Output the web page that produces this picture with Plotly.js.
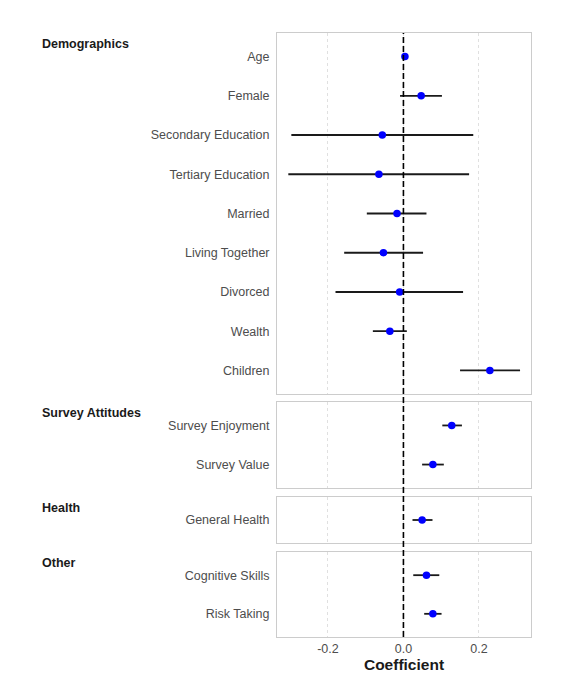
<!DOCTYPE html>
<html>
<head>
<meta charset="utf-8">
<script src="https://cdn.plot.ly/plotly-3.0.1.min.js"></script>
<style>html,body{margin:0;padding:0;background:#fff;}#chart{width:568px;height:682px;}</style>
</head>
<body>
<div id="chart"></div>
<script>
// ---- data ----
const groups = ["Demographics", "Survey Attitudes", "Health", "Other"];

const demoVars = ["Age", "Female", "Secondary Education", "Tertiary Education", "Married",
                  "Living Together", "Divorced", "Wealth", "Children"];
const demoCoef = [0.004, 0.047, -0.056, -0.065, -0.017, -0.053, -0.010, -0.036, 0.229];
const demoLo   = [0.001, -0.009, -0.297, -0.305, -0.097, -0.157, -0.180, -0.081, 0.150];
const demoHi   = [0.007, 0.102, 0.185, 0.174, 0.061, 0.052, 0.158, 0.009, 0.309];

const surveyVars = ["Survey Enjoyment", "Survey Value"];
const surveyCoef = [0.128, 0.078];
const surveyLo   = [0.103, 0.0495];
const surveyHi   = [0.155, 0.107];

const healthVars = ["General Health"];
const healthCoef = [0.0495];
const healthLo   = [0.024];
const healthHi   = [0.077];

const otherVars = ["Cognitive Skills", "Risk Taking"];
const otherCoef = [0.061, 0.078];
const otherLo   = [0.026, 0.055];
const otherHi   = [0.095, 0.101];

const xTicks = [-0.2, 0.0, 0.2];
const xTickText = ["-0.2", "0.0", "0.2"];

// ---- layout helpers ----
const W = 568, H = 682;
const px = v => v / W;
const py = v => 1 - v / H;
const panels = [
  {name: groups[0], vars: demoVars, coef: demoCoef, lo: demoLo, hi: demoHi, top: 33, bot: 394},
  {name: groups[1], vars: surveyVars, coef: surveyCoef, lo: surveyLo, hi: surveyHi, top: 402, bot: 488},
  {name: groups[2], vars: healthVars, coef: healthCoef, lo: healthLo, hi: healthHi, top: 497, bot: 543},
  {name: groups[3], vars: otherVars, coef: otherCoef, lo: otherLo, hi: otherHi, top: 552, bot: 637}
];

const FONT = "Liberation Sans, Arial, sans-serif";
const xDomain = [px(277), px(531)];
const xRange = [-0.335, 0.338];

const traces = [];
const layout = {
  width: W, height: H,
  margin: {l: 0, r: 0, t: 0, b: 0},
  paper_bgcolor: "#ffffff",
  plot_bgcolor: "#ffffff",
  showlegend: false,
  font: {family: FONT, size: 12.5, color: "#4d4d4d"},
  shapes: [],
  annotations: []
};

panels.forEach((p, i) => {
  const n = i + 1;
  const xa = n === 1 ? "x" : "x" + n;
  const ya = n === 1 ? "y" : "y" + n;
  const xKey = n === 1 ? "xaxis" : "xaxis" + n;
  const yKey = n === 1 ? "yaxis" : "yaxis" + n;
  const isBottom = (i === panels.length - 1);

  traces.push({
    type: "scatter", mode: "markers",
    x: p.coef, y: p.vars,
    xaxis: xa, yaxis: ya,
    marker: {color: "#0000ff", size: 7.5},
    error_x: {
      type: "data", symmetric: false,
      array: p.hi.map((h, k) => h - p.coef[k]),
      arrayminus: p.coef.map((c, k) => c - p.lo[k]),
      color: "#1a1a1a", thickness: 1.8, width: 0
    },
    hoverinfo: "x+y"
  });

  layout[xKey] = {
    domain: xDomain, anchor: ya,
    range: xRange,
    matches: n === 1 ? undefined : "x",
    tickvals: xTicks, ticktext: xTickText,
    showticklabels: isBottom,
    ticks: "",
    tickfont: {family: FONT, size: 12.5, color: "#4d4d4d"},
    showgrid: true, gridcolor: "#e0e0e0", griddash: "3px,3px", gridwidth: 1,
    zeroline: false,
    showline: true, mirror: true, linecolor: "#cccccc", linewidth: 1
  };
  if (isBottom) {
    layout[xKey].title = {text: "Coefficient", font: {family: FONT, size: 15.5, color: "#1a1a1a", weight: 700}, standoff: 2};
  }
  layout[yKey] = {
    domain: [py(p.bot), py(p.top)], anchor: xa,
    type: "category",
    categoryorder: "array", categoryarray: p.vars,
    range: [p.vars.length - 1 + 0.6, -0.6],
    ticks: "outside", ticklen: 4, tickcolor: "rgba(0,0,0,0)",
    tickfont: {family: FONT, size: 12.5, color: "#4d4d4d"},
    showgrid: false, zeroline: false,
    showline: true, mirror: true, linecolor: "#cccccc", linewidth: 1
  };

  layout.annotations.push({
    text: p.name, xref: "paper", yref: "paper",
    x: px(40), y: py(p.top + 11), xanchor: "left", yanchor: "middle",
    showarrow: false,
    font: {family: FONT, size: 12.5, color: "#1a1a1a", weight: 700}
  });
});

// reference line at zero across all panels
layout.shapes.push({
  type: "line", xref: "x", yref: "paper",
  x0: 0, x1: 0, y0: py(637), y1: py(33),
  line: {color: "#000000", width: 1.6, dash: "6px,3px"}
});

Plotly.newPlot("chart", traces, layout, {displayModeBar: false, staticPlot: true});
</script>
</body>
</html>
